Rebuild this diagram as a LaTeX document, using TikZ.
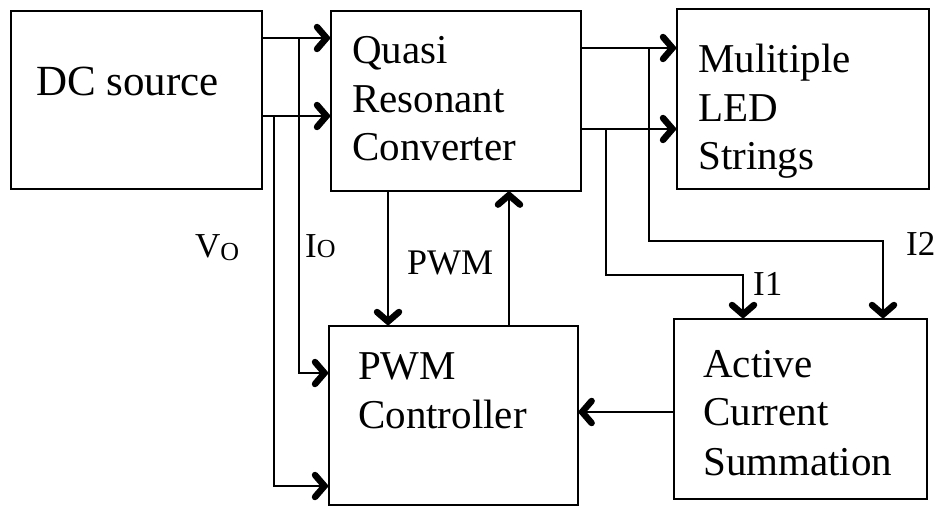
\documentclass[tikz,border=0pt]{standalone}
\usepackage{fontspec}
\setmainfont{Liberation Serif}
\usetikzlibrary{decorations.markings}
\begin{document}
\begin{tikzpicture}[x=1pt,y=-1pt,
 box/.style={draw, line width=1.6pt, inner sep=0pt, anchor=north west},
 wire/.style={line width=1.5pt},
 arr/.style={wire, postaction={decorate, decoration={markings,
   mark=at position 1 with {\draw[line width=6.5pt, line cap=round, line join=miter]
     (-13pt,-11pt) -- (-3.5pt,0pt) -- (-13pt,11pt);}}}},
 txt/.style={anchor=base west, inner sep=0pt, font=\fontsize{41}{48}\selectfont},
 lbl/.style={anchor=base west, inner sep=0pt, font=\fontsize{35}{40}\selectfont}]
\useasboundingbox (0,0) rectangle (937,506);
% boxes
\node[box, minimum width=251pt, minimum height=178pt] (dc) at (10,10) {};
\node[box, minimum width=250pt, minimum height=180pt] (qrc) at (330,10) {};
\node[box, minimum width=252pt, minimum height=180pt] (led) at (676,8) {};
\node[box, minimum width=249pt, minimum height=179pt] (pwm) at (328,325) {};
\node[box, minimum width=253pt, minimum height=180pt] (acs) at (673,318) {};
% texts
\node[txt, font=\fontsize{43}{48}\selectfont] (dct) at (36,95) {DC source};
\node[txt] (q1) at (352,63) {Quasi};
\node[txt] (q2) at (352,112) {Resonant};
\node[txt] (q3) at (352,160) {Converter};
\node[txt] (l1) at (698,72) {Mulitiple};
\node[txt] (l2) at (698,121) {LED};
\node[txt] (l3) at (698,169) {Strings};
\node[txt] (p1) at (358,379) {PWM};
\node[txt] (p2) at (358,428) {Controller};
\node[txt] (a1) at (703,377) {Active};
\node[txt] (a2) at (703,425) {Current};
\node[txt] (a3) at (703,475) {Summation};
% coordinates
\coordinate (ya) at (0,38);
\coordinate (yb) at (0,116);
\coordinate (yc) at (0,48);
\coordinate (yd) at (0,129);
\coordinate (jio) at (299,38);
\coordinate (jvo) at (274,116);
\coordinate (yio) at (0,373);
\coordinate (yvo) at (0,486);
\coordinate (ji2) at (649,48);
\coordinate (ji1) at (606,129);
\coordinate (yi2) at (0,241);
\coordinate (yi1) at (0,275);
\coordinate (xi2) at (883,0);
\coordinate (xi1) at (743,0);
\coordinate (xd) at (388,0);
\coordinate (xu) at (509,0);
\coordinate (ye) at (0,412);
% connectors
\draw[arr] (dc.east |- ya) -- (qrc.west |- ya);
\draw[arr] (dc.east |- yb) -- (qrc.west |- yb);
\draw[arr] (jio) |- (pwm.west |- yio);
\draw[arr] (jvo) |- (pwm.west |- yvo);
\draw[arr] (qrc.east |- yc) -- (led.west |- yc);
\draw[arr] (qrc.east |- yd) -- (led.west |- yd);
\draw[arr] (ji2) |- (xi2 |- yi2) -- (xi2 |- acs.north);
\draw[arr] (ji1) |- (xi1 |- yi1) -- (xi1 |- acs.north);
\draw[arr] (xd |- qrc.south) -- (xd |- pwm.north);
\draw[arr] (xu |- pwm.north) -- (xu |- qrc.south);
\draw[arr] (acs.west |- ye) -- (pwm.east |- ye);
% labels
\node[lbl] (vo) at (195,257) {V\raisebox{-3pt}{\fontsize{26}{26}\selectfont O}};
\node[lbl] (io) at (305,257) {I{\fontsize{26}{26}\selectfont O}};
\node[lbl, font=\fontsize{36}{40}\selectfont] (pwmlbl) at (407,274) {PWM};
\node[lbl] (i1) at (753,295) {I1};
\node[lbl] (i2) at (906,255) {I2};
\end{tikzpicture}
\end{document}
